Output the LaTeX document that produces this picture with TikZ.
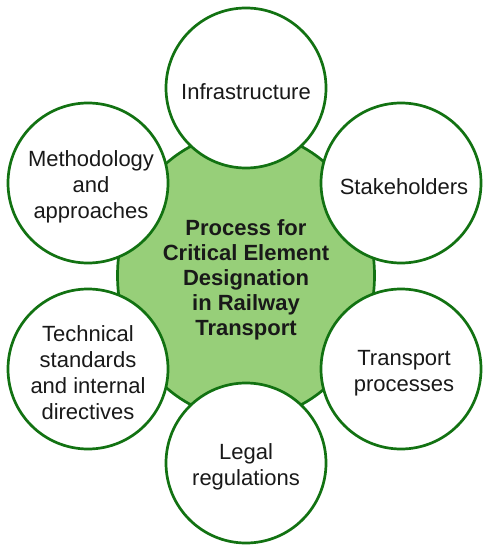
\documentclass[tikz,border=0pt]{standalone}
\usepackage{fontspec}
\setmainfont{Liberation Sans}
\usetikzlibrary{shapes.geometric}
\definecolor{cgreen}{RGB}{151,207,121}
\definecolor{cdark}{RGB}{18,114,18}
\definecolor{ctext}{RGB}{25,25,25}
\begin{document}
\begin{tikzpicture}[x=1pt,y=-1pt,
  outer/.style={circle, draw=cdark, line width=2.7pt, fill=white,
    minimum size=160pt, inner sep=0pt},
  core/.style={ellipse, draw=cdark, line width=2.7pt, fill=cgreen,
    minimum width=257pt, minimum height=286pt, inner sep=0pt},
  otext/.style={align=center, text=ctext, inner sep=0pt, yshift=-4pt,
    font=\fontsize{22}{26}\selectfont},
  ctxt/.style={align=center, text=ctext, inner sep=0pt, yshift=-4pt,
    font=\fontsize{22}{25}\selectfont\bfseries}]
\useasboundingbox (0,0) rectangle (482,545);
\node[core] (core) at (246,275.5) {};
\node[outer] (infra) at (246,88) {};
\node[outer] (stake) at (401,183) {};
\node[outer] (trans) at (401,369) {};
\node[outer] (legal) at (246,463) {};
\node[outer] (tech) at (88,369) {};
\node[outer] (meth) at (88,183) {};
\node[ctxt] (coret) at (core.center) {Process for\\Critical Element\\Designation\\in Railway\\Transport};
\node[otext] (infrat) at (infra.center) {Infrastructure};
\node[otext, xshift=3pt] (staket) at (stake.center) {Stakeholders};
\node[otext, xshift=3pt] (transt) at (trans.center) {Transport\\processes};
\node[otext] (legalt) at (legal.center) {Legal\\regulations};
\node[otext] (techt) at (tech.center) {Technical\\standards\\and internal\\directives};
\node[otext, xshift=3pt] (metht) at (meth.center) {Methodology\\and\\approaches};
\end{tikzpicture}
\end{document}
